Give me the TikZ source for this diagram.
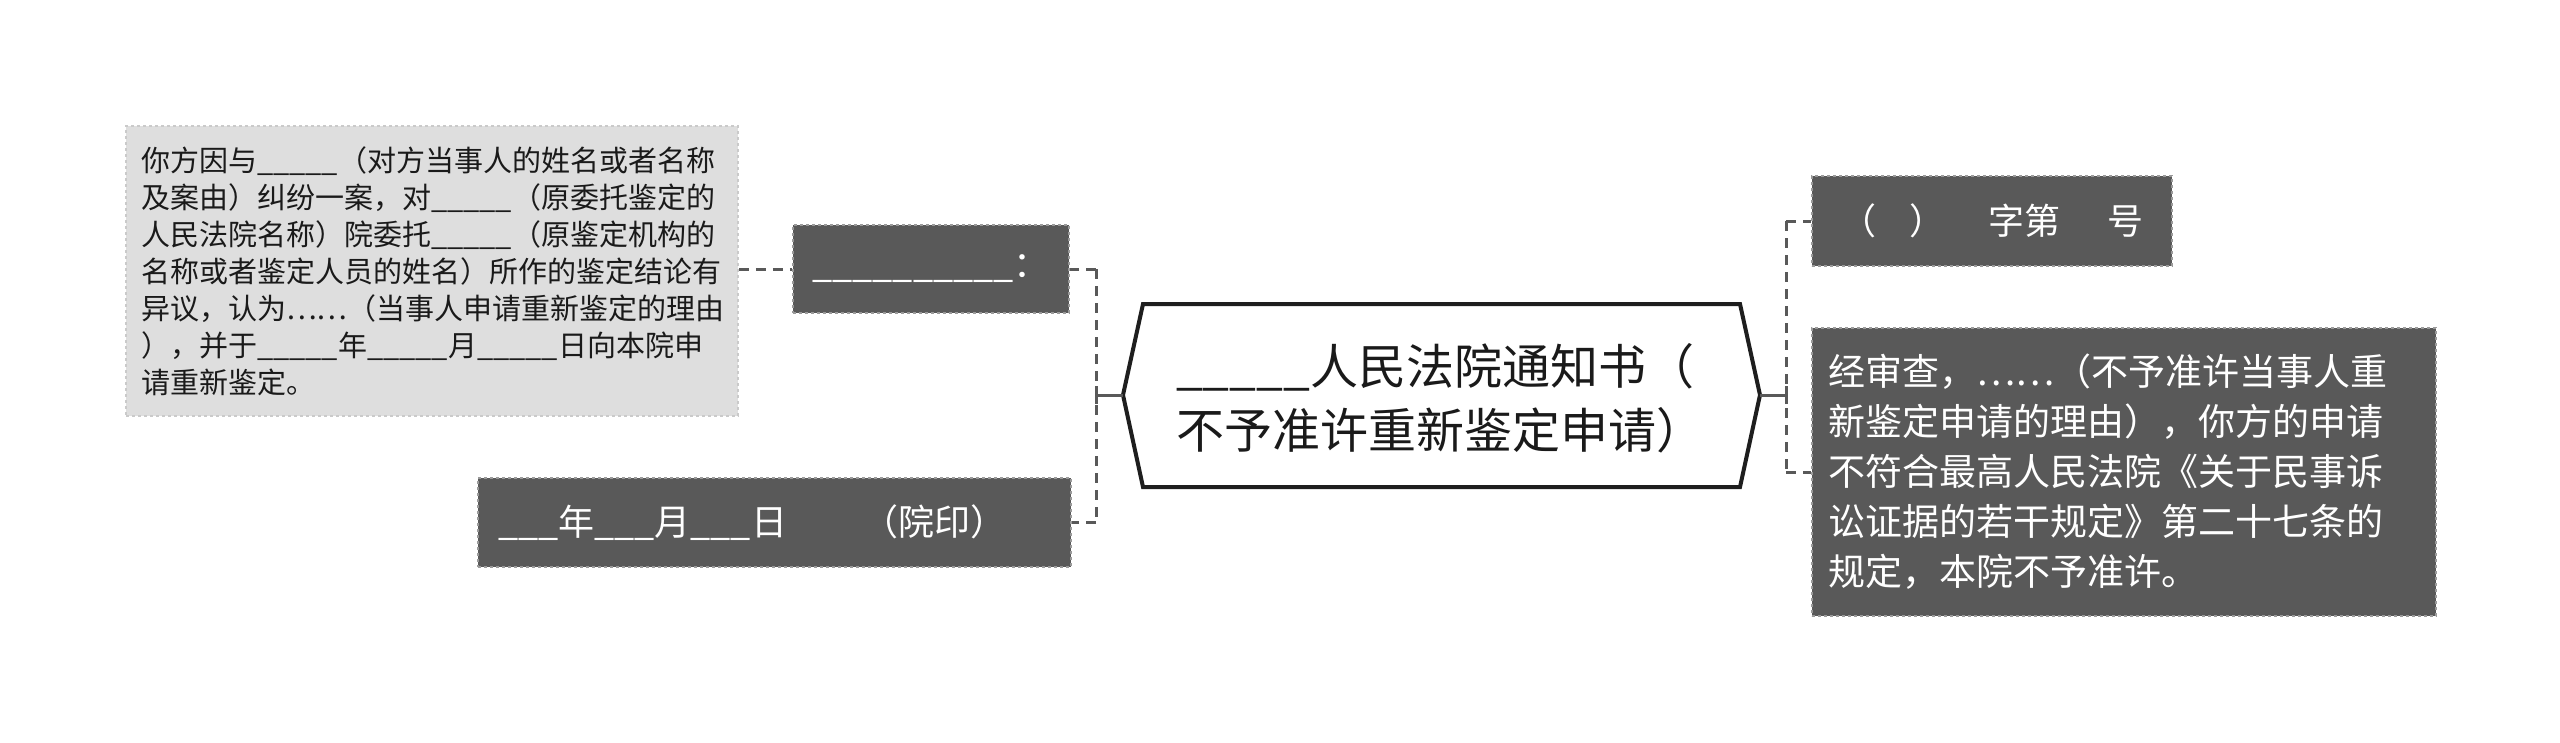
\documentclass[tikz,border=0pt]{standalone}
\usepackage{fontspec}
\setmainfont{Noto Sans CJK SC}
\definecolor{darkfill}{HTML}{595959}
\definecolor{darkborder}{HTML}{9A9A9A}
\definecolor{lightfill}{HTML}{DEDEDE}
\definecolor{lightborder}{HTML}{CACACA}
\definecolor{conn}{HTML}{595959}
\definecolor{hexline}{HTML}{1E1E1E}
\definecolor{txt}{HTML}{1A1A1A}
\begin{document}
\begin{tikzpicture}[x=1pt,y=-1pt,
  darkbox/.style={fill=darkfill,draw=darkborder,dashed,line width=1.5pt,text=white,
    inner xsep=16pt,inner ysep=0pt,align=left},
  lightbox/.style={fill=lightfill,draw=lightborder,dashed,line width=1.5pt,text=txt,
    inner xsep=15pt,inner ysep=0pt,align=left},
  titlenode/.style={text=txt,align=left,inner sep=0pt},
  hexedge/.style={draw=hexline,line width=4pt,line join=miter,fill=white},
  connector/.style={draw=conn,line width=3pt,dash pattern=on 10pt off 7pt},
  stub/.style={draw=conn,line width=3pt},
  darkfont/.style={font=\fontsize{36pt}{50pt}\selectfont},
  bigdarkfont/.style={font=\fontsize{37pt}{50pt}\selectfont},
  lightfont/.style={font=\fontsize{29pt}{37pt}\selectfont},
  titlefont/.style={font=\fontsize{48pt}{64pt}\selectfont}
]
\useasboundingbox (0,0) rectangle (2560,742);

% hexagon title
\coordinate (hL) at (1123,395);
\coordinate (hTL) at (1143,304);
\coordinate (hTR) at (1740,304);
\coordinate (hR) at (1760,395);
\coordinate (hBR) at (1740,487);
\coordinate (hBL) at (1143,487);
\path[hexedge] (hL) -- (hTL) -- (hTR) -- (hR) -- (hBR) -- (hBL) -- cycle;
\node[titlenode,titlefont] (title) at (1440,398) {\_\_\_\_\_人民法院通知书（\\不予准许重新鉴定申请）};

% left side
\node[lightbox,lightfont,text width=582pt,minimum height=290pt] (g) at (432,271)
{你方因与\_\_\_\_\_（对方当事人的姓名或者名称\\
及案由）纠纷一案，对\_\_\_\_\_（原委托鉴定的\\
人民法院名称）院委托\_\_\_\_\_（原鉴定机构的\\
名称或者鉴定人员的姓名）所作的鉴定结论有\\
异议，认为……（当事人申请重新鉴定的理由\\
），并于\_\_\_\_\_年\_\_\_\_\_月\_\_\_\_\_日向本院申\\
请重新鉴定。};

\node[darkbox,darkfont,minimum width=276pt,minimum height=88pt] (n1) at (931,269)
{\_\_\_\_\_\_\_\_\_\_：};

\node[darkbox,darkfont,inner xsep=20pt,text width=553pt,minimum height=89pt] (date) at (774.5,522.5)
{\_\_\_年\_\_\_月\_\_\_日\hspace{2.1em}（院印）};

% right side
\node[darkbox,darkfont,minimum width=360pt,minimum height=90pt] (num) at (1992,221)
{（\hspace{0.9em}）\hspace{1.2em}字第\hspace{1.3em}号};

\node[darkbox,bigdarkfont,text width=592pt,minimum height=288pt] (body) at (2124,472)
{经审查，……（不予准许当事人重\\
新鉴定申请的理由），你方的申请\\
不符合最高人民法院《关于民事诉\\
讼证据的若干规定》第二十七条的\\
规定，本院不予准许。};

% connectors left
\coordinate (lj) at (1096,395);
\coordinate (lt) at (1096,269);
\coordinate (lb) at (1096,522.5);
\draw[stub] (hL) -- (lj);
\draw[stub] ([yshift=-9pt]lj) -- ([yshift=9pt]lj);
\draw[connector] (lt) -- (lb);
\draw[connector] (lt) -- (n1.east);
\draw[connector] (lb) -- (date.east);
\draw[connector] (g.east |- n1.west) -- (n1.west);

% connectors right
\coordinate (rj) at (1786,395);
\coordinate (rt) at (1786,221);
\coordinate (rb) at (1786,472);
\draw[stub] (hR) -- (rj);
\draw[stub] ([yshift=-9pt]rj) -- ([yshift=9pt]rj);
\draw[connector] (rt) -- (rb);
\draw[connector] (rt) -- (num.west);
\draw[connector] (rb) -- (body.west);
\end{tikzpicture}
\end{document}
